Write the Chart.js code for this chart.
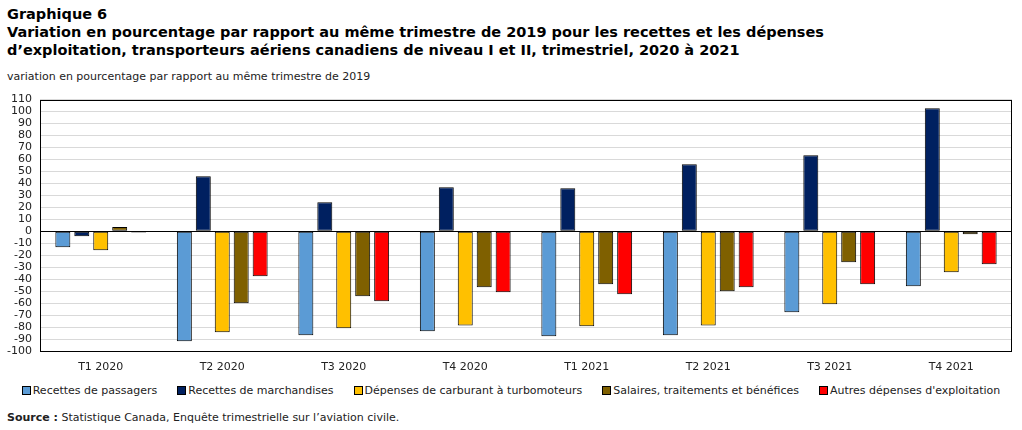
<!DOCTYPE html>
<html lang="fr">
<head>
<meta charset="utf-8">
<script src="https://cdn.jsdelivr.net/npm/chart.js@4.4.0/dist/chart.umd.min.js"></script>
<style>
  html, body { margin: 0; padding: 0; background: #fff; }
  body { width: 1022px; height: 430px; position: relative; overflow: hidden; font-family: "DejaVu Sans", Verdana, sans-serif; color: #000; }
  .title { position: absolute; left: 7px; top: 5px; font-weight: bold; font-size: 14.5px; line-height: 18px; }
  .unit { position: absolute; left: 7px; top: 70px; font-size: 11px; color: #222; }
  .chart-wrap { position: absolute; left: 0; top: 85px; width: 1022px; height: 295px; }
  .legend { position: absolute; left: 0; top: 384px; width: 1022px; display: flex; justify-content: center; gap: 20px; font-size: 11px; color: #222; }
  .legend-item { display: flex; align-items: center; white-space: nowrap; }
  .legend-box { width: 7px; height: 7px; border: 1px solid #000; margin-right: 2px; }
  .source { position: absolute; left: 7px; top: 411px; font-size: 11px; color: #222; }
</style>
</head>
<body>
<div class="title">Graphique 6<br>Variation en pourcentage par rapport au même trimestre de 2019 pour les recettes et les dépenses<br>d’exploitation, transporteurs aériens canadiens de niveau I et II, trimestriel, 2020 à 2021</div>
<div class="unit">variation en pourcentage par rapport au même trimestre de 2019</div>
<div class="chart-wrap"><canvas id="chart"></canvas></div>
<div class="legend" id="legend"></div>
<div class="source"><b>Source :</b> Statistique Canada, Enquête trimestrielle sur l’aviation civile.</div>

<script>
// Categories (quarters)
const quarters = ['T1 2020', 'T2 2020', 'T3 2020', 'T4 2020', 'T1 2021', 'T2 2021', 'T3 2021', 'T4 2021'];

// Series values (percent change vs same quarter of 2019)
const passagers     = [-13.4, -91.9, -86.9, -83.6, -87.7, -86.9, -67.7, -46.0];
const marchandises  = [-4.2, 46.0, 24.2, 36.8, 35.9, 56.0, 63.5, 102.8];
const carburant     = [-15.9, -84.4, -81.1, -78.6, -79.4, -78.6, -61.0, -34.3];
const salaires      = [3.6, -60.2, -54.3, -46.8, -44.3, -50.1, -25.9, -2.5];
const autres        = [-1.1, -37.6, -58.5, -51.0, -52.6, -46.8, -44.3, -27.6];

const seriesNames = [
  'Recettes de passagers',
  'Recettes de marchandises',
  'Dépenses de carburant à turbomoteurs',
  'Salaires, traitements et bénéfices',
  'Autres dépenses d\'exploitation'
];
const seriesColors = ['#5B9BD5', '#002060', '#FFC000', '#7F6000', '#FF0000'];
const seriesData = [passagers, marchandises, carburant, salaires, autres];

const FONT = '"DejaVu Sans", Verdana, sans-serif';

// Frame around the plot area
const framePlugin = {
  id: 'frame',
  afterDraw(chart) {
    const { ctx, chartArea: a } = chart;
    ctx.save();
    ctx.strokeStyle = '#000';
    ctx.lineWidth = 1;
    ctx.strokeRect(Math.round(a.left) + 0.5, Math.round(a.top) + 0.5,
      Math.round(a.right - a.left) - 1, Math.round(a.bottom - a.top));
    ctx.restore();
  }
};

const ctx = document.getElementById('chart').getContext('2d');
new Chart(ctx, {
  type: 'bar',
  data: {
    labels: quarters,
    datasets: seriesData.map((vals, i) => ({
      label: seriesNames[i],
      data: vals,
      backgroundColor: seriesColors[i],
      borderColor: '#000',
      borderWidth: 1,
      borderSkipped: false,
      barPercentage: 0.79,
      categoryPercentage: 0.78
    }))
  },
  options: {
    responsive: true,
    maintainAspectRatio: false,
    animation: false,
    layout: { padding: { top: 0, right: 10, bottom: 5, left: 0 } },
    plugins: {
      legend: { display: false },
      tooltip: { enabled: false }
    },
    scales: {
      x: {
        grid: { display: false, drawTicks: false },
        border: { display: false },
        ticks: { color: '#222', font: { family: FONT, size: 11 }, padding: 10, maxRotation: 0 },
        afterFit: (scale) => { scale.height = 24; }
      },
      y: {
        min: -100,
        max: 110,
        grid: {
          drawTicks: false,
          color: (c) => (c.tick && c.tick.value === 0 ? '#000' : '#d9d9d9'),
          lineWidth: 1
        },
        border: { display: false },
        ticks: {
          stepSize: 10,
          autoSkip: false,
          color: '#222',
          font: { family: FONT, size: 11 },
          padding: 8
        },
        afterFit: (scale) => { scale.width = 40; }
      }
    }
  },
  plugins: [framePlugin]
});

// HTML legend
const legend = document.getElementById('legend');
seriesNames.forEach((name, i) => {
  const item = document.createElement('div');
  item.className = 'legend-item';
  item.innerHTML = `<span class="legend-box" style="background:${seriesColors[i]}"></span>${name}`;
  legend.appendChild(item);
});
</script>
</body>
</html>
